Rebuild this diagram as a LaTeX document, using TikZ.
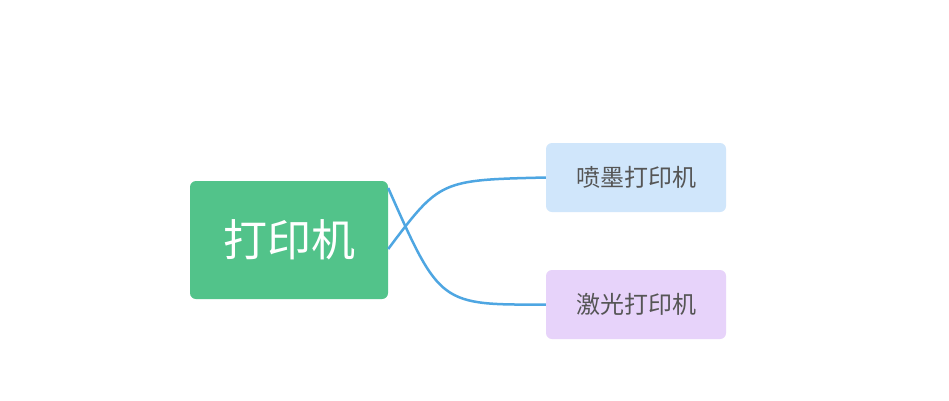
\documentclass[tikz,border=0pt]{standalone}
\usepackage{fontspec}
\newfontfamily\cjk{Noto Sans CJK SC}
\definecolor{rootc}{HTML}{52C38A}
\definecolor{bluec}{HTML}{D0E6FB}
\definecolor{purc}{HTML}{E7D3FA}
\definecolor{linec}{HTML}{4EA6E2}
\definecolor{txtc}{HTML}{555555}
\begin{document}
\begin{tikzpicture}[x=1pt,y=-1pt,
  box/.style={rounded corners=6pt,inner sep=0pt,minimum width=180pt,minimum height=69pt,font=\cjk\fontsize{24}{28}\selectfont,text=txtc},
  link/.style={draw=linec,line width=2.5pt}]
\useasboundingbox (0,0) rectangle (949,400);
\fill[white] (0,0) rectangle (949,400);
\node[box,fill=rootc,minimum width=198pt,minimum height=118pt,text=white,font=\cjk\fontsize{44}{50}\selectfont] (root) at (289,240) {打印机};
\node[box,fill=bluec] (a) at (636,177.5) {喷墨打印机};
\node[box,fill=purc] (b) at (636,304.5) {激光打印机};
\draw[link] ([yshift=-9pt]root.east) .. controls (440,180) .. (a.west);
\draw[link] ([yshift=52pt]root.east) .. controls (440,305) .. (b.west);
\end{tikzpicture}
\end{document}
